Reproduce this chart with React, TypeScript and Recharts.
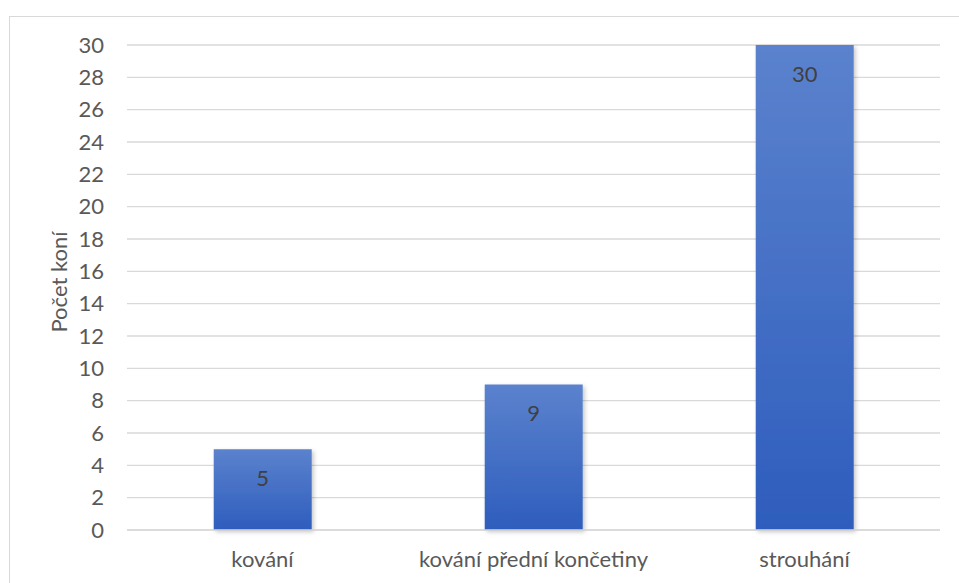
import { BarChart, Bar, XAxis, YAxis, CartesianGrid, LabelList, Label } from "recharts";

const categories = ["kování", "kování přední končetiny", "strouhání"];
const counts = [5, 9, 30];
const yTicks = [0, 2, 4, 6, 8, 10, 12, 14, 16, 18, 20, 22, 24, 26, 28, 30];

const data = categories.map((name, i) => ({ name, value: counts[i] }));

const FONT = "Lato, 'Open Sans', sans-serif";
const tickStyle = { fill: "#595959", fontSize: 22, fontFamily: FONT };

export default function App() {
  return (
    <div style={{ position: "absolute", left: 0, top: 0, width: 959, height: 583, background: "#fff", overflow: "hidden" }}>
      <div
        style={{
          position: "absolute",
          left: 9,
          top: 16,
          width: 980,
          height: 600,
          border: "1px solid #d9d9d9",
        }}
      />
      <BarChart
        width={959}
        height={583}
        data={data}
        margin={{ top: 45, right: 19, bottom: 0, left: 0 }}
        barCategoryGap="32%"
        style={{ position: "absolute", left: 0, top: 0 }}
      >
        <defs>
          <linearGradient id="barFill" x1="0" y1="0" x2="0" y2="1">
            <stop offset="0%" stopColor="#5b82cd" />
            <stop offset="100%" stopColor="#2e5dbd" />
          </linearGradient>
          <filter id="barShadow" x="-10%" y="-10%" width="130%" height="130%">
            <feDropShadow dx="2" dy="2" stdDeviation="2" floodColor="#000" floodOpacity="0.22" />
          </filter>
        </defs>
        <CartesianGrid vertical={false} stroke="#d9d9d9" strokeWidth={1.4} />
        <XAxis
          dataKey="name"
          height={53}
          tickLine={false}
          axisLine={{ stroke: "#d9d9d9", strokeWidth: 1.4 }}
          tick={tickStyle}
          tickMargin={15}
        />
        <YAxis
          domain={[0, 30]}
          ticks={yTicks}
          interval={0}
          width={127}
          tickLine={false}
          axisLine={false}
          tick={tickStyle}
          tickMargin={17}
        >
          <Label
            content={() => (
              <text
                x={67}
                y={282}
                transform="rotate(-90 67 282)"
                textAnchor="middle"
                fill="#595959"
                fontSize={22}
                fontFamily={FONT}
              >
                Počet koní
              </text>
            )}
          />
        </YAxis>
        <Bar dataKey="value" fill="url(#barFill)" filter="url(#barShadow)" isAnimationActive={false}>
          <LabelList
            dataKey="value"
            position="insideTop"
            offset={21}
            fill="#404040"
            fontSize={22}
            fontFamily={FONT}
          />
        </Bar>
      </BarChart>
    </div>
  );
}
